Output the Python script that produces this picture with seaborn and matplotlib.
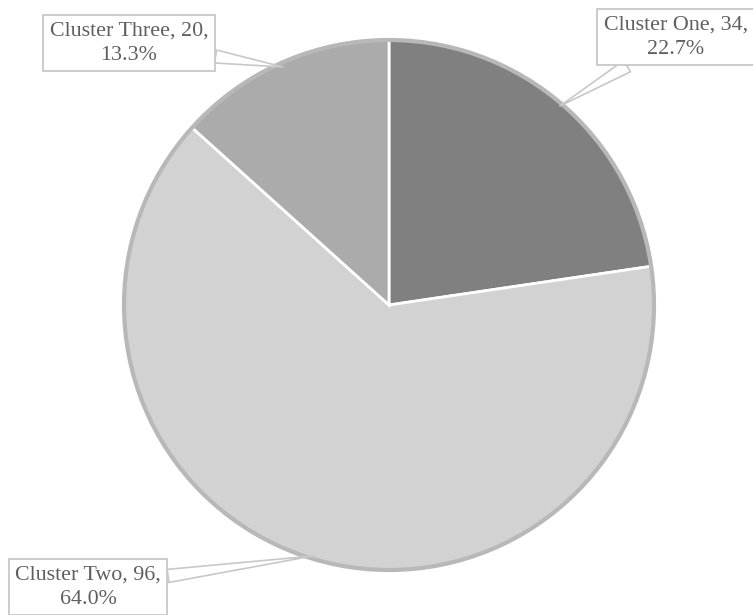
import matplotlib
matplotlib.use("Agg")
import matplotlib.pyplot as plt
import seaborn as sns

# --- Data ---
clusters = ["Cluster One", "Cluster Two", "Cluster Three"]
counts = [34, 96, 20]
colors = ["#808080", "#d2d2d2", "#ababab"]

# label text centres and leader-line points (pie radius = 1)
label_xy = [(1.083, 1.011), (-1.136, -1.064), (-0.981, 0.989)]
edge_xy = [(0.645, 0.751), (-0.287, -0.947), (-0.40, 0.898)]

sns.set_theme(style="white")
plt.rcParams["font.family"] = ["Liberation Serif", "DejaVu Serif"]

total = sum(counts)
pcts = [c / total * 100 for c in counts]

fig = plt.figure(figsize=(7.53, 6.15), dpi=100)
ax = fig.add_axes([0, 0, 1, 1])

wedges, _ = ax.pie(counts, colors=colors, startangle=90, counterclock=False,
                   radius=1.0,
                   wedgeprops=dict(edgecolor="white", linewidth=2))

# soft rim around the pie
rim = plt.Circle((0, 0), 1.0, facecolor="none", edgecolor="#b8b8b8", lw=3, zorder=3)
ax.add_patch(rim)

# callout labels
for name, c, p, txy, exy in zip(clusters, counts, pcts, label_xy, edge_xy):
    ax.annotate(f"{name}, {c},\n{p:.1f}%", xy=exy, xytext=txy,
                ha="center", va="center", fontsize=15.8, color="#5f5f5f",
                linespacing=1.4, zorder=5,
                bbox=dict(boxstyle="square,pad=0.3", fc="white", ec="#c8c8c8", lw=1.3),
                arrowprops=dict(arrowstyle="wedge,tail_width=0.6", fc="white",
                                ec="#c8c8c8", lw=1.2, shrinkA=0, shrinkB=0))

ax.set_xlim(-389 / 265, (753 - 389) / 265)
ax.set_ylim(-(615 - 305) / 265, 305 / 265)
ax.set_aspect("equal")
ax.axis("off")

plt.savefig("out.png", dpi=100)
